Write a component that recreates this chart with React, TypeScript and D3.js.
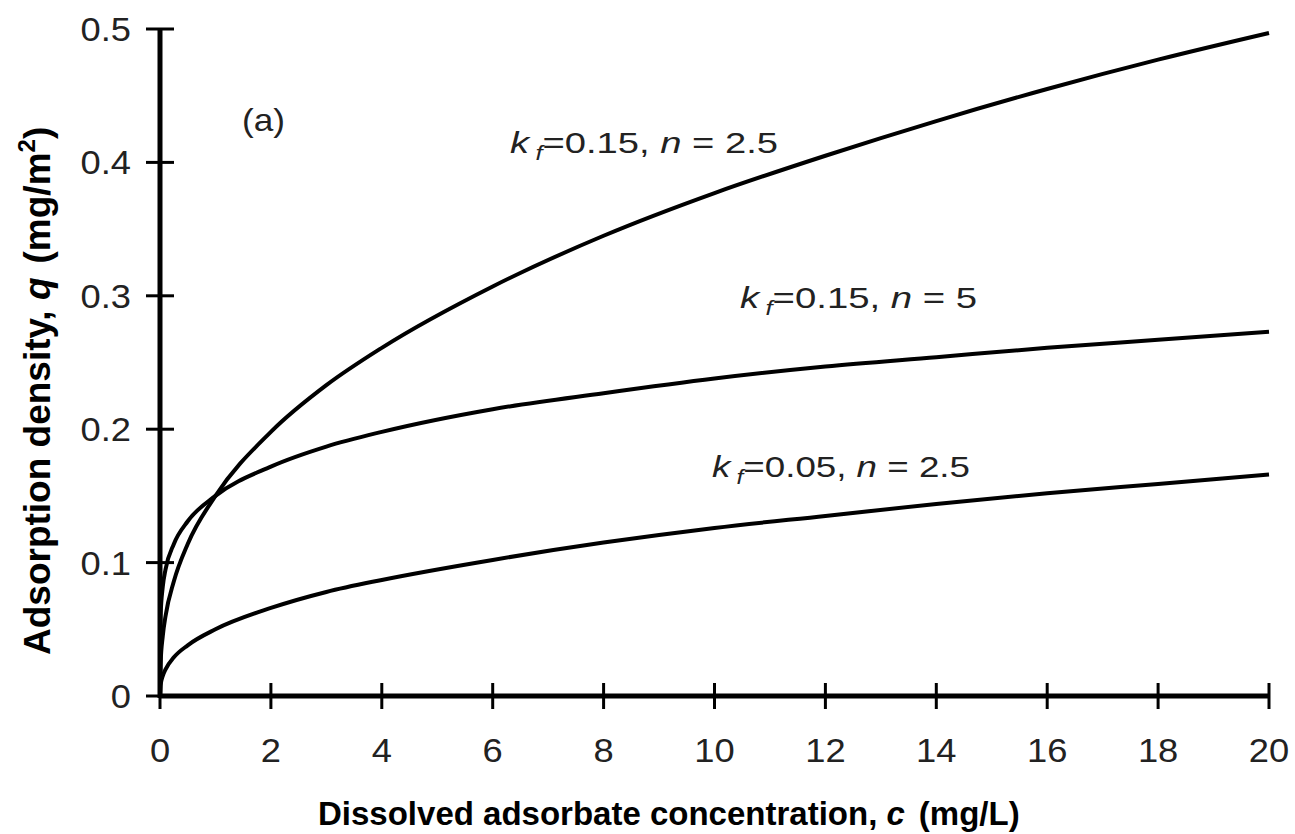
import * as d3 from "d3";

// values
const conc = [0, 0.01, 0.05, 0.1, 0.25, 0.5, 1, 2, 3, 4, 6, 8, 10, 12, 14, 16, 18, 20];
const qK015N25 = [0, 0.024, 0.045, 0.06, 0.086, 0.114, 0.15, 0.198, 0.233, 0.261, 0.307, 0.345, 0.377, 0.405, 0.431, 0.455, 0.477, 0.497];
const qK015N5 = [0, 0.06, 0.082, 0.095, 0.114, 0.131, 0.15, 0.172, 0.187, 0.198, 0.215, 0.227, 0.238, 0.247, 0.254, 0.261, 0.267, 0.273];
const qK005N25 = [0, 0.008, 0.015, 0.02, 0.029, 0.038, 0.05, 0.066, 0.078, 0.087, 0.102, 0.115, 0.126, 0.135, 0.144, 0.152, 0.159, 0.166];

const xTicks = [0, 2, 4, 6, 8, 10, 12, 14, 16, 18, 20];
const yTicks = [0, 0.1, 0.2, 0.3, 0.4, 0.5];

const labels = [
  { kf: "0.15", n: "2.5", x: 510, y: 153, len: 268 },
  { kf: "0.15", n: "5", x: 740, y: 308, len: 237 },
  { kf: "0.05", n: "2.5", x: 712, y: 477, len: 258 },
];

const W = 1295;
const H = 834;
const font = "'Liberation Sans', Arial, sans-serif";

export default function App() {
  const x = d3.scaleLinear().domain([0, 20]).range([160, 1269]);
  const y = d3.scaleLinear().domain([0, 0.5]).range([696, 29]);

  const line = d3
    .line<number>()
    .x((_, i) => x(conc[i]))
    .y((d) => y(d))
    .curve(d3.curveMonotoneX);

  const series = [qK015N25, qK015N5, qK005N25];

  return (
    <svg
      width={W}
      height={H}
      style={{ position: "absolute", left: 0, top: 0, background: "#fff" }}
      fontFamily={font}
    >
      {series.map((s, i) => (
        <path key={i} d={line(s) || ""} fill="none" stroke="#000" strokeWidth={4} />
      ))}

      {/* axes */}
      <line x1={x(0)} x2={x(20)} y1={y(0)} y2={y(0)} stroke="#000" strokeWidth={5} />
      <line x1={x(0)} x2={x(0)} y1={y(0) + 2} y2={y(0.5)} stroke="#000" strokeWidth={5} />
      {xTicks.map((t) => (
        <g key={t}>
          <line x1={x(t)} x2={x(t)} y1={y(0) - 13} y2={y(0) + 13} stroke="#000" strokeWidth={3} />
          <text
            transform={`translate(${x(t)},${y(0) + 66}) scale(1.1,1)`}
            textAnchor="middle"
            fontSize={33}
            fill="#222"
          >
            {t}
          </text>
        </g>
      ))}
      {yTicks.map((t) => (
        <g key={t}>
          <line x1={x(0) - 14} x2={x(0) + 14} y1={y(t)} y2={y(t)} stroke="#000" strokeWidth={3} />
          <text
            transform={`translate(131,${y(t) + 12}) scale(1.1,1)`}
            textAnchor="end"
            fontSize={33}
            fill="#222"
          >
            {t === 0 ? "0" : t.toFixed(1)}
          </text>
        </g>
      ))}

      {/* axis titles */}
      <text x={318} y={825} fontSize={33} fontWeight="bold" fill="#000">
        <tspan>Dissolved adsorbate concentration, </tspan>
        <tspan fontStyle="italic">c</tspan>
        <tspan dx={14}>(mg/L)</tspan>
      </text>
      <text transform="translate(50,655) rotate(-90)" fontSize={37} fontWeight="bold" fill="#000">
        <tspan>Adsorption density, </tspan>
        <tspan fontStyle="italic">q</tspan>
        <tspan dx={14}>(mg/m</tspan>
        <tspan fontSize={24} dy={-15}>2</tspan>
        <tspan dy={15}>)</tspan>
      </text>

      <text x={242} y={131} fontSize={32} fill="#222" textLength={43} lengthAdjust="spacingAndGlyphs">
        (a)
      </text>

      {labels.map((l, i) => (
        <text
          key={i}
          x={l.x}
          y={l.y}
          fontSize={30}
          fill="#222"
          textLength={l.len}
          lengthAdjust="spacingAndGlyphs"
        >
          <tspan fontStyle="italic">k</tspan>
          <tspan fontStyle="italic" fontSize={20} dx={5} dy={7}>f</tspan>
          <tspan dy={-7}>={l.kf}, </tspan>
          <tspan fontStyle="italic">n</tspan>
          <tspan> = {l.n}</tspan>
        </text>
      ))}
    </svg>
  );
}
